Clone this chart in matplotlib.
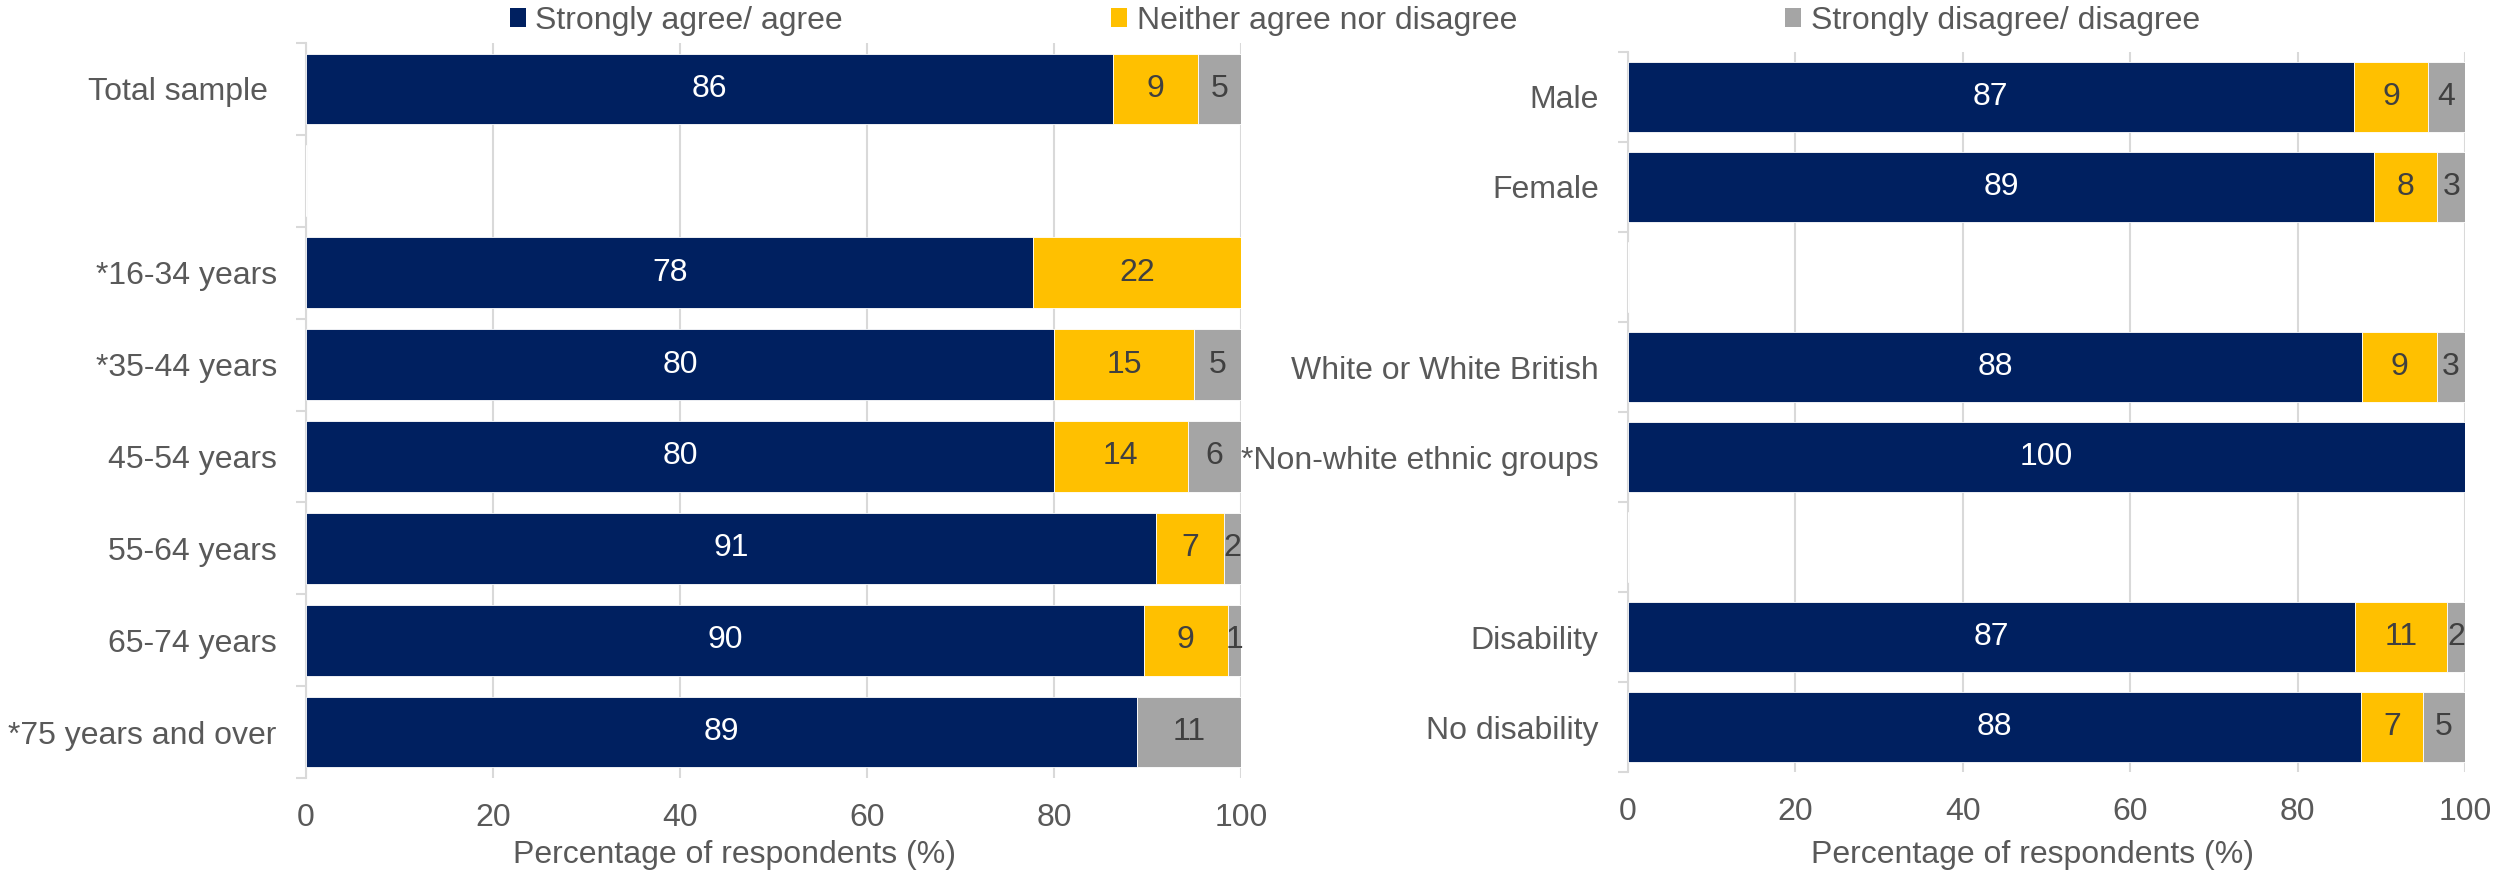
import matplotlib.pyplot as plt
from matplotlib.patches import Patch
from matplotlib.ticker import FixedLocator

# Data (percentages)
left_cats = ['Total sample ', '', '*16-34 years', '*35-44 years', '45-54 years',
             '55-64 years', '65-74 years', '*75 years and over']
left_agree = [86.3, 0, 77.8, 80.0, 80.0, 90.9, 89.6, 88.9]
left_neither = [9.1, 0, 22.2, 15.0, 14.3, 7.3, 9.0, 0]
left_disagree = [4.6, 0, 0, 5.0, 5.7, 1.8, 1.4, 11.1]

right_cats = ['Male', 'Female', '', 'White or White British', '*Non-white ethnic groups',
              '', 'Disability', 'No disability']
right_agree = [86.7, 89.1, 0, 87.7, 100.0, 0, 86.9, 87.6]
right_neither = [8.9, 7.6, 0, 8.9, 0, 0, 11.0, 7.4]
right_disagree = [4.4, 3.3, 0, 3.4, 0, 0, 2.1, 5.0]

series_names = ['Strongly agree/ agree', 'Neither agree nor disagree', 'Strongly disagree/ disagree']
colors = ['#002060', '#FFC000', '#A5A5A5']
label_colors = ['white', '#404040', '#404040']

plt.rcParams['font.family'] = ['Liberation Sans', 'DejaVu Sans']
fs = 23
grey_text = '#595959'
grid_col = '#D9D9D9'

W, H = 2509, 872
fig = plt.figure(figsize=(W / 100, H / 100), dpi=100)


def px_axes(x0, x1, ytop, ybot):
    return fig.add_axes([x0 / W, (H - ybot) / H, (x1 - x0) / W, (ybot - ytop) / H])


def draw_panel(ax, cats, series, label_x):
    n = len(cats)
    ypos = list(range(n))
    left = [0] * n
    for vals, col, tcol in zip(series, colors, label_colors):
        bars = ax.barh(ypos, vals, left=left, height=0.77, color=col,
                       edgecolor='white', linewidth=0.6, zorder=3)
        for b, v in zip(bars, vals):
            if v > 0:
                ax.text(b.get_x() + b.get_width() / 2, b.get_y() + b.get_height() / 2,
                        f'{round(v):d}', ha='center', va='center', fontsize=fs,
                        color=tcol, zorder=4)
        left = [l + v for l, v in zip(left, vals)]

    ax.set_xlim(0, 100)
    ax.set_ylim(n - 0.5, -0.5)
    ax.set_xticks([0, 20, 40, 60, 80, 100])
    ax.set_yticks(ypos)
    ax.set_yticklabels(cats)
    ax.yaxis.set_minor_locator(FixedLocator([i - 0.5 for i in range(n + 1)]))
    ax.tick_params(axis='y', which='major', length=0, pad=21, labelsize=fs, labelcolor=grey_text)
    ax.tick_params(axis='y', which='minor', length=7, width=1.5, color=grid_col)
    ax.tick_params(axis='x', length=0, pad=18, labelsize=fs, labelcolor=grey_text)
    ax.grid(axis='x', color=grid_col, linewidth=1.5, zorder=0)
    ax.set_axisbelow(True)
    for s in ['top', 'right', 'bottom']:
        ax.spines[s].set_visible(False)
    ax.spines['left'].set_color(grid_col)
    ax.spines['left'].set_linewidth(1.5)
    ax.set_xlabel('Percentage of respondents (%)', fontsize=fs, color=grey_text)
    ax.xaxis.set_label_coords(*label_x)


ax1 = px_axes(306, 1241, 43, 778)
draw_panel(ax1, left_cats, [left_agree, left_neither, left_disagree], (0.458, -0.084))

ax2 = px_axes(1628, 2465, 52, 772)
draw_panel(ax2, right_cats, [right_agree, right_neither, right_disagree], (0.483, -0.094))

handles = [Patch(facecolor=c, edgecolor='none') for c in colors]
fig.legend(handles, series_names, loc='center', bbox_to_anchor=(0.54, 0.976), ncol=3,
           frameon=False, fontsize=fs, columnspacing=8.4, handlelength=0.5,
           handleheight=0.5, handletextpad=0.3, labelcolor=grey_text)

fig.savefig('out.png', dpi=100)
